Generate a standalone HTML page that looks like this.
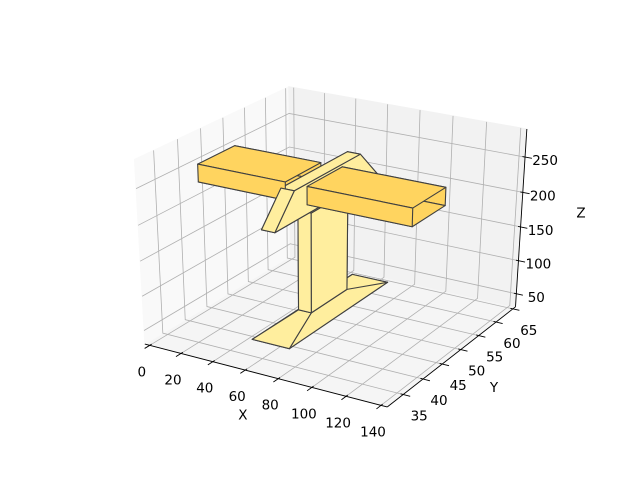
<!DOCTYPE html>
<html><head><meta charset="utf-8"><style>
html,body{margin:0;padding:0;background:#fff;}
svg text{font-family:"DejaVu Sans","Liberation Sans",sans-serif;font-size:13.5px;fill:#000;}
</style></head><body>
<svg id="chart" width="640" height="480" viewBox="0 0 640 480" xmlns="http://www.w3.org/2000/svg">
<g id="panes"></g>
<g id="grid"></g>
<g id="axes"></g>
<g id="solids"></g>
</svg>
<script>
const xTicks = [0, 20, 40, 60, 80, 100, 120, 140];
const yTicks = [35, 40, 45, 50, 55, 60, 65];
const zTicks = [50, 100, 150, 200, 250];
const xLim = [-3.2, 143.5];
const yLim = [31.1, 65.8];
const zLim = [30, 289];
const partNames = ['base-flange', 'column', 'top-flange', 'crossbar-left', 'crossbar-right'];
const bottomRects = [[47, 70, 37.5, 62.5], [55, 63, 45.5, 54.5], [54, 62, 37.5, 62.5], [0, 54, 43, 51.4], [67, 128, 43, 51.4]];
const topRects = [[55, 63, 45.5, 54.5], [55, 63, 45.5, 54.5], [54, 62, 42, 58], [0, 54, 43, 51.4], [67, 128, 43, 51.4]];
const zBottoms = [40, 56, 200, 222, 222];
const zTops = [56, 200, 242, 247, 247];
const partColors = ['#ffee9e', '#ffee9e', '#ffee9e', '#ffd45f', '#ffd45f'];
const partCaps = [true, true, true, false, false];

const NS = 'http://www.w3.org/2000/svg';
function proj(x, y, z) {
  const a = (x - xLim[0]) / (xLim[1] - xLim[0]) - 0.5;
  const b = (y - yLim[0]) / (yLim[1] - yLim[0]) - 0.5;
  const c = (z - zLim[0]) / (zLim[1] - zLim[0]) - 0.5;
  const d = a * 1.1428 * 0.433 - b * 1.1428 * 0.75 + c * 0.857 * 0.5;
  const f = 1 / (1 - d / 7.5);
  return [335 + f * (240 * a + 141 * b + 1 * c), 237 + f * (52 * a - 86 * b - 181 * c), d];
}
function mk(tag, parent, attrs) {
  const el = document.createElementNS(NS, tag);
  for (const k in attrs) el.setAttribute(k, attrs[k]);
  parent.appendChild(el);
  return el;
}
function ptsStr(pts) { return pts.map(p => { const q = proj(p[0], p[1], p[2]); return q[0].toFixed(2) + ',' + q[1].toFixed(2); }).join(' '); }

const X0 = xLim[0], X1 = xLim[1], Y0 = yLim[0], Y1 = yLim[1], Z0 = zLim[0], Z1 = zLim[1];
const panes = document.getElementById('panes');
let pn;
pn = mk('polygon', panes, {points: ptsStr([[X0,Y0,Z0],[X1,Y0,Z0],[X1,Y1,Z0],[X0,Y1,Z0]]), fill: '#f5f5f5', stroke: '#f5f5f5'});


pn = mk('polygon', panes, {points: ptsStr([[X0,Y0,Z0],[X0,Y1,Z0],[X0,Y1,Z1],[X0,Y0,Z1]]), fill: '#f9f9f9', stroke: '#f9f9f9'});


pn = mk('polygon', panes, {points: ptsStr([[X0,Y1,Z0],[X1,Y1,Z0],[X1,Y1,Z1],[X0,Y1,Z1]]), fill: '#f2f2f2', stroke: '#f2f2f2'});



const grid = document.getElementById('grid');
function gline(pts, name) {
  const l = mk('polyline', grid, {points: ptsStr(pts), fill: 'none', stroke: '#b0b0b0', 'stroke-width': 0.8});
  
  
}
xTicks.forEach(v => gline([[v,Y0,Z0],[v,Y1,Z0],[v,Y1,Z1]], 'x-gridline'));
yTicks.forEach(v => gline([[X1,v,Z0],[X0,v,Z0],[X0,v,Z1]], 'y-gridline'));
zTicks.forEach(v => gline([[X0,Y0,v],[X0,Y1,v],[X1,Y1,v]], 'z-gridline'));

const axes = document.getElementById('axes');
function aline(pts, name, w) {
  const l = mk('polyline', axes, {points: ptsStr(pts), fill: 'none', stroke: '#000', 'stroke-width': w});
  
  
}
function label(txt, x, y, name, anchor) {
  const t = mk('text', axes, {x: x.toFixed(1), y: y.toFixed(1), 'text-anchor': anchor || 'middle', 'dominant-baseline': 'central'});
  t.textContent = txt;
  
  
}
aline([[X0,Y0,Z0],[X1,Y0,Z0]], 'x-axis-line', 0.9);
aline([[X1,Y0,Z0],[X1,Y1,Z0]], 'y-axis-line', 0.9);
aline([[X1,Y1,Z0],[X1,Y1,Z1]], 'z-axis-line', 0.9);
xTicks.forEach(v => {
  aline([[v,Y0+0.4,Z0],[v,Y0-1.1,Z0]], 'x-tick', 0.9);
  const p = proj(v, Y0, Z0);
  label(String(v), p[0] - 8, p[1] + 27, 'x-tick-label');
});
yTicks.forEach(v => {
  aline([[X1-1.5,v,Z0],[X1+4,v,Z0]], 'y-tick', 0.9);
  const p = proj(X1, v, Z0);
  label(String(v), p[0] + 16, p[1] + 22, 'y-tick-label');
});
zTicks.forEach(v => {
  aline([[X1-1.5,Y1,v],[X1+4,Y1,v]], 'z-tick', 0.9);
  const p = proj(X1, Y1, v);
  label(String(v), p[0] + 20, p[1] + 4, 'z-tick-label');
});
let pm;
pm = proj((X0+X1)/2, Y0, Z0); label('X', pm[0] - 19, pm[1] + 41, 'x-axis-title');
pm = proj(X1, (Y0+Y1)/2, Z0); label('Y', pm[0] + 39, pm[1] + 34, 'y-axis-title');
pm = proj(X1, Y1, (Z0+Z1)/2); label('Z', pm[0] + 60, pm[1] - 7, 'z-axis-title');

const faces = [];
partNames.forEach((nm, i) => {
  const B = bottomRects[i], T = topRects[i], z0 = zBottoms[i], z1 = zTops[i];
  const b = [[B[0],B[2],z0],[B[1],B[2],z0],[B[1],B[3],z0],[B[0],B[3],z0]];
  const t = [[T[0],T[2],z1],[T[1],T[2],z1],[T[1],T[3],z1],[T[0],T[3],z1]];
  const list = [[b[0],b[1],b[2],b[3]],[t[0],t[1],t[2],t[3]],[b[0],b[1],t[1],t[0]],[b[2],b[3],t[3],t[2]]];
  if (partCaps[i]) { list.push([b[1],b[2],t[2],t[1]]); list.push([b[3],b[0],t[0],t[3]]); }
  list.forEach(f => {
    const depth = f.reduce((s, p) => s + proj(p[0], p[1], p[2])[2], 0) / f.length;
    faces.push({pts: f, depth: depth, color: partColors[i], name: nm});
  });
});
faces.sort((p, q) => p.depth - q.depth);
const solids = document.getElementById('solids');
faces.forEach(f => {
  const poly = mk('polygon', solids, {points: ptsStr(f.pts), fill: f.color, stroke: '#404040', 'stroke-width': 1.1, 'stroke-linejoin': 'round'});
  
  
});
</script>
</body></html>
